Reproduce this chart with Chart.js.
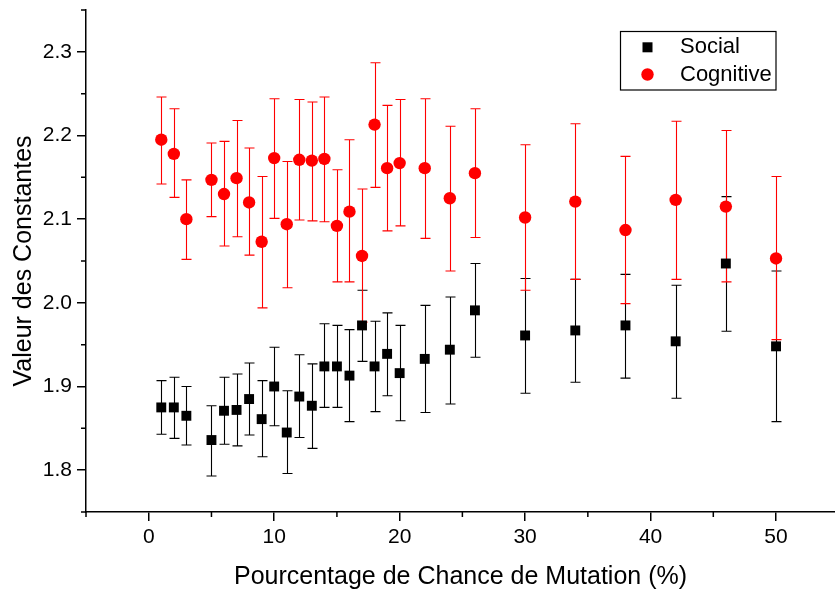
<!DOCTYPE html>
<html>
<head>
<meta charset="utf-8">
<script src="https://cdn.jsdelivr.net/npm/chart.js@4.4.1/dist/chart.umd.min.js"></script>
<style>
html, body { margin: 0; padding: 0; background: #ffffff; overflow: hidden; }
canvas { display: block; }
</style>
</head>
<body>
<canvas id="chart" width="835" height="590"></canvas>
<script>
// ---- Data ----
const mutationPct = [1, 2, 3, 5, 6, 7, 8, 9, 10, 11, 12, 13, 14, 15, 16, 17, 18, 19, 20, 22, 24, 26, 30, 34, 38, 42, 46, 50];

const socialMean = [1.875, 1.875, 1.865, 1.836, 1.871, 1.872, 1.885, 1.861, 1.900, 1.845, 1.888, 1.877, 1.924, 1.924, 1.913, 1.973, 1.924, 1.939, 1.916, 1.933, 1.944, 1.991, 1.961, 1.967, 1.973, 1.954, 2.047, 1.948];
const socialHigh = [1.907, 1.911, 1.900, 1.877, 1.911, 1.915, 1.928, 1.907, 1.947, 1.895, 1.938, 1.927, 1.975, 1.973, 1.968, 2.015, 1.978, 1.988, 1.973, 1.997, 2.007, 2.047, 2.029, 2.028, 2.034, 2.021, 2.127, 2.038];
const socialLow  = [1.843, 1.838, 1.830, 1.793, 1.831, 1.829, 1.842, 1.816, 1.853, 1.796, 1.839, 1.826, 1.875, 1.875, 1.858, 1.930, 1.870, 1.889, 1.859, 1.869, 1.879, 1.935, 1.892, 1.905, 1.910, 1.886, 1.966, 1.858];

const cognitiveMean = [2.195, 2.178, 2.100, 2.147, 2.130, 2.149, 2.120, 2.073, 2.173, 2.094, 2.171, 2.170, 2.172, 2.092, 2.109, 2.056, 2.213, 2.161, 2.167, 2.161, 2.125, 2.155, 2.102, 2.121, 2.087, 2.123, 2.115, 2.053];
const cognitiveHigh = [2.246, 2.232, 2.147, 2.191, 2.193, 2.218, 2.185, 2.151, 2.244, 2.169, 2.243, 2.240, 2.246, 2.159, 2.195, 2.136, 2.287, 2.236, 2.243, 2.244, 2.211, 2.232, 2.189, 2.214, 2.175, 2.217, 2.206, 2.151];
const cognitiveLow  = [2.142, 2.126, 2.052, 2.103, 2.068, 2.079, 2.057, 1.994, 2.101, 2.018, 2.099, 2.098, 2.097, 2.025, 2.025, 1.977, 2.138, 2.086, 2.092, 2.077, 2.038, 2.078, 2.015, 2.028, 1.999, 2.028, 2.025, 1.956];

const seriesLabels = ['Social', 'Cognitive'];
const xTickValues = [0, 10, 20, 30, 40, 50];
const xMinorTickValues = [-5, 5, 15, 25, 35, 45];
const yTickValues = [1.8, 1.9, 2.0, 2.1, 2.2, 2.3];
const yMinorTickValues = [1.75, 1.85, 1.95, 2.05, 2.15, 2.25, 2.35];
const xAxisTitle = 'Pourcentage de Chance de Mutation (%)';
const yAxisTitle = 'Valeur des Constantes';

// ---- Styling ----
const FONT = '"Liberation Sans", Arial, Helvetica, sans-serif';
const errorBounds = [
  { low: socialLow, high: socialHigh },
  { low: cognitiveLow, high: cognitiveHigh }
];

const errorBarPlugin = {
  id: 'errorBars',
  beforeDatasetsDraw(chart) {
    const ctx = chart.ctx;
    const xs = chart.scales.x, ys = chart.scales.y;
    const capHalf = 5;
    ctx.save();
    chart.data.datasets.forEach((ds, di) => {
      const b = errorBounds[di];
      ctx.strokeStyle = ds.borderColor;
      ctx.lineWidth = 1.1;
      ds.data.forEach((p, i) => {
        const px = Math.round(xs.getPixelForValue(p.x)) + 0.5;
        const yl = ys.getPixelForValue(b.low[i]);
        const yh = ys.getPixelForValue(b.high[i]);
        ctx.beginPath();
        ctx.moveTo(px, yl); ctx.lineTo(px, yh);
        ctx.moveTo(px - capHalf, yl); ctx.lineTo(px + capHalf, yl);
        ctx.moveTo(px - capHalf, yh); ctx.lineTo(px + capHalf, yh);
        ctx.stroke();
      });
    });
    ctx.restore();
  }
};

const minorTickPlugin = {
  id: 'minorTicks',
  afterDraw(chart) {
    const ctx = chart.ctx;
    const xs = chart.scales.x, ys = chart.scales.y;
    const area = chart.chartArea;
    ctx.save();
    ctx.strokeStyle = '#000';
    ctx.lineWidth = 1.5;
    ctx.beginPath();
    xMinorTickValues.forEach(v => {
      const px = xs.getPixelForValue(v);
      ctx.moveTo(px, area.bottom); ctx.lineTo(px, area.bottom + 5);
    });
    yMinorTickValues.forEach(v => {
      const py = ys.getPixelForValue(v);
      ctx.moveTo(area.left - 5, py); ctx.lineTo(area.left, py);
    });
    ctx.stroke();
    ctx.restore();
  }
};

const legendBoxPlugin = {
  id: 'legendBox',
  afterDraw(chart) {
    const ctx = chart.ctx;
    const box = { x: 620.5, y: 31.5, w: 155.5, h: 58.5 };
    ctx.save();
    ctx.fillStyle = '#fff';
    ctx.fillRect(box.x, box.y, box.w, box.h);
    ctx.strokeStyle = '#000';
    ctx.lineWidth = 1.2;
    ctx.strokeRect(box.x, box.y, box.w, box.h);
    const rows = [47.3, 74.5];
    chart.data.datasets.forEach((ds, i) => {
      const cy = rows[i];
      const cx = 647.5;
      ctx.fillStyle = ds.backgroundColor;
      if (ds.pointStyle === 'rect') {
        ctx.fillRect(cx - 5, cy - 5, 10, 10);
      } else {
        ctx.beginPath();
        ctx.arc(cx, cy, 6.2, 0, Math.PI * 2);
        ctx.fill();
      }
      ctx.fillStyle = '#000';
      ctx.font = '22px ' + FONT;
      ctx.textBaseline = 'middle';
      ctx.textAlign = 'left';
      ctx.fillText(ds.label, 680, cy);
    });
    ctx.restore();
  }
};

const toPoints = (ys) => mutationPct.map((x, i) => ({ x: x, y: ys[i] }));

new Chart(document.getElementById('chart'), {
  type: 'scatter',
  data: {
    datasets: [
      {
        label: seriesLabels[0],
        data: toPoints(socialMean),
        pointStyle: 'rect',
        pointRadius: 7,
        pointBorderWidth: 0,
        backgroundColor: '#000000',
        borderColor: '#000000',
        showLine: false
      },
      {
        label: seriesLabels[1],
        data: toPoints(cognitiveMean),
        pointStyle: 'circle',
        pointRadius: 6.2,
        pointBorderWidth: 0,
        backgroundColor: '#ff0000',
        borderColor: '#ff0000',
        showLine: false
      }
    ]
  },
  options: {
    responsive: false,
    animation: false,
    devicePixelRatio: 1,
    layout: { autoPadding: false, padding: { top: 10, left: 0, right: 0, bottom: 0 } },
    plugins: {
      legend: { display: false },
      tooltip: { enabled: false }
    },
    scales: {
      x: {
        type: 'linear',
        min: -5,
        max: 54.7,
        afterBuildTicks: (s) => { s.ticks = xTickValues.map(v => ({ value: v })); },
        afterFit: (s) => { s.height = 78; s.paddingLeft = 0; s.paddingRight = 0; },
        grid: { display: true, drawOnChartArea: false, drawTicks: true, tickLength: 9, color: '#000', lineWidth: 1.5 },
        border: { display: true, color: '#000', width: 1.5 },
        ticks: {
          color: '#000',
          font: { family: FONT, size: 21 },
          padding: 4,
          maxRotation: 0,
          autoSkip: false,
          callback: (v) => String(v)
        },
        title: {
          display: true,
          text: xAxisTitle,
          color: '#000',
          font: { family: FONT, size: 25, lineHeight: 1 },
          padding: { top: 0, bottom: 0 }
        }
      },
      y: {
        type: 'linear',
        min: 1.75,
        max: 2.35,
        afterBuildTicks: (s) => { s.ticks = yTickValues.map(v => ({ value: v })); },
        afterFit: (s) => { s.width = 86; s.paddingTop = 0; s.paddingBottom = 0; },
        grid: { display: true, drawOnChartArea: false, drawTicks: true, tickLength: 9, color: '#000', lineWidth: 1.5 },
        border: { display: true, color: '#000', width: 1.5 },
        ticks: {
          color: '#000',
          font: { family: FONT, size: 21 },
          padding: 5,
          autoSkip: false,
          callback: (v) => Number(v).toFixed(1)
        },
        title: {
          display: true,
          text: yAxisTitle,
          color: '#000',
          font: { family: FONT, size: 25, lineHeight: 1 },
          padding: { top: 12, bottom: 0 }
        }
      }
    }
  },
  plugins: [errorBarPlugin, minorTickPlugin, legendBoxPlugin]
});
</script>
</body>
</html>
